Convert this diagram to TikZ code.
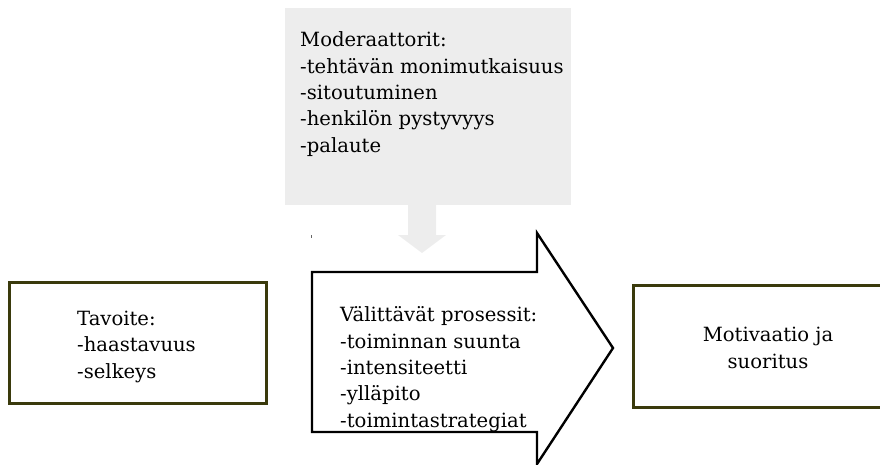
\documentclass[tikz,border=0pt]{standalone}
\usepackage{fontspec}
\setmainfont{DejaVu Serif}
\definecolor{modgray}{HTML}{EDEDED}
\definecolor{boxedge}{RGB}{58,58,12}
\begin{document}
\begin{tikzpicture}[x=1pt,y=-1pt,
  txt/.style={font=\fontsize{19.6}{26.3}\selectfont, align=left, inner sep=0pt},
  framebox/.style={draw=boxedge, line width=3pt, fill=white},
  bigarrow/.style={draw=black, line width=2.4pt, fill=white, line join=miter},
  grayarrow/.style={fill=modgray}]
\useasboundingbox (0,0) rectangle (880,464);

% moderators panel
\fill[modgray] (285,8) rectangle (571,205);
\node[txt, anchor=base west] (modtext) at (300,152)
  {Moderaattorit:\\-tehtävän monimutkaisuus\\-sitoutuminen\\-henkilön pystyvyys\\-palaute};

% gray arrow pointing down from the panel
\fill[grayarrow] (408,204) -- (436,204) -- (436,235) -- (446,235) -- (422,253)
  -- (398,235) -- (408,235) -- cycle;

% small mark
\fill[black!60] (310.6,234.5) rectangle (311.6,237.5);

% goal box
\draw[framebox] (9,282) rectangle (266,403);
\node[txt, anchor=base west] (goal) at (77,378)
  {Tavoite:\\-haastavuus\\-selkeys};

% mediating processes (block arrow)
\coordinate (bodytl) at (312,272);
\coordinate (headtop) at (537,233);
\coordinate (tip) at (613,348);
\coordinate (headbot) at (537,464);
\coordinate (bodybl) at (312,432);
\draw[bigarrow] (bodytl) -- (537,272) -- (headtop) -- (tip) -- (headbot)
  -- (537,432) -- (bodybl) -- cycle;
\node[txt, anchor=base west] (proc) at (340,427)
  {Välittävät prosessit:\\-toiminnan suunta\\-intensiteetti\\-ylläpito\\-toimintastrategiat};

% outcome box
\draw[framebox] (633,285) rectangle (905,407);
\node[txt, align=center, anchor=base] (outcome) at (768,368)
  {Motivaatio ja\\suoritus};
\end{tikzpicture}
\end{document}
